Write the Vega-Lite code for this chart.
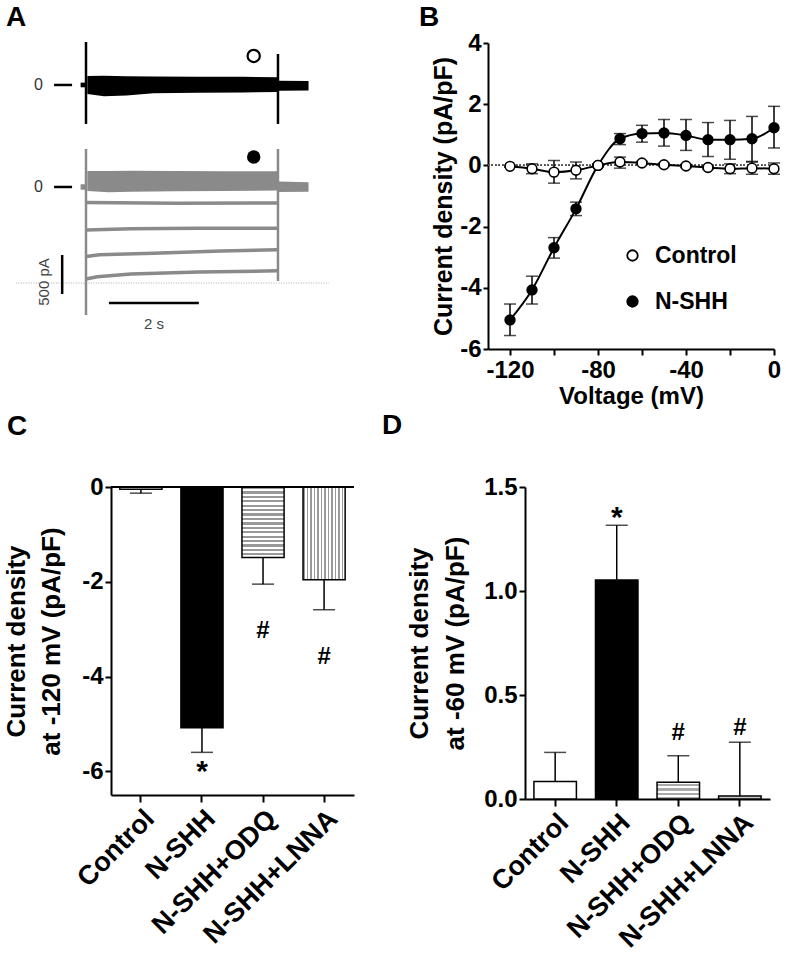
{
 "$schema": "https://vega.github.io/schema/vega-lite/v6.json",
 "padding": {"left": 3, "top": 3, "right": 5, "bottom": 5},
 "background": "white",
 "config": {
  "font": "Liberation Sans",
  "view": {"stroke": null},
  "axis": {"domainColor": "black", "domainWidth": 2, "tickColor": "black", "tickWidth": 2, "labelColor": "black", "labelFont": "Liberation Sans", "labelFontWeight": "bold", "titleFont": "Liberation Sans", "titleFontWeight": "bold", "titleColor": "black", "grid": false, "labelFlush": false, "labelOverlap": false},
  "title": {"fontSize": 28, "fontWeight": "bold", "anchor": "start", "frame": "group", "color": "black", "font": "Liberation Sans", "baseline": "alphabetic"},
  "legend": {"labelFont": "Liberation Sans"}
 },
 "datasets": {
  "A_band": [
   {"trace": "Control", "seg": "pre", "t": -0.12, "hi": 30, "lo": -30},
   {"trace": "Control", "seg": "pre", "t": -0.02, "hi": 30, "lo": -30},
   {"trace": "Control", "seg": "step", "t": 0.03, "hi": 115, "lo": -115},
   {"trace": "Control", "seg": "step", "t": 0.4, "hi": 118, "lo": -145},
   {"trace": "Control", "seg": "step", "t": 0.9, "hi": 112, "lo": -135},
   {"trace": "Control", "seg": "step", "t": 1.5, "hi": 108, "lo": -105},
   {"trace": "Control", "seg": "step", "t": 2.5, "hi": 105, "lo": -100},
   {"trace": "Control", "seg": "step", "t": 3.5, "hi": 105, "lo": -95},
   {"trace": "Control", "seg": "step", "t": 4.26, "hi": 100, "lo": -90},
   {"trace": "Control", "seg": "tail", "t": 4.28, "hi": 55, "lo": -75},
   {"trace": "Control", "seg": "tail", "t": 4.95, "hi": 50, "lo": -70},
   {"trace": "N-SHH", "seg": "pre", "t": -0.12, "hi": 35, "lo": -35},
   {"trace": "N-SHH", "seg": "pre", "t": -0.02, "hi": 35, "lo": -35},
   {"trace": "N-SHH", "seg": "step", "t": 0.03, "hi": 205, "lo": -50},
   {"trace": "N-SHH", "seg": "step", "t": 0.5, "hi": 205, "lo": -68},
   {"trace": "N-SHH", "seg": "step", "t": 1.0, "hi": 207, "lo": -60},
   {"trace": "N-SHH", "seg": "step", "t": 2.0, "hi": 205, "lo": -55},
   {"trace": "N-SHH", "seg": "step", "t": 3.0, "hi": 203, "lo": -50},
   {"trace": "N-SHH", "seg": "step", "t": 4.26, "hi": 203, "lo": -45},
   {"trace": "N-SHH", "seg": "tail", "t": 4.28, "hi": 70, "lo": -65},
   {"trace": "N-SHH", "seg": "tail", "t": 4.95, "hi": 60, "lo": -60}
  ],
  "A_steps": [
   {"level": 1, "t": 0, "pA": -200}, {"level": 1, "t": 2, "pA": -210}, {"level": 1, "t": 4.26, "pA": -205},
   {"level": 2, "t": 0, "pA": -550}, {"level": 2, "t": 1, "pA": -535}, {"level": 2, "t": 2.5, "pA": -530}, {"level": 2, "t": 4.26, "pA": -528},
   {"level": 3, "t": 0, "pA": -890}, {"level": 3, "t": 0.3, "pA": -870}, {"level": 3, "t": 1.5, "pA": -850}, {"level": 3, "t": 3, "pA": -820}, {"level": 3, "t": 4.26, "pA": -805},
   {"level": 4, "t": 0, "pA": -1180}, {"level": 4, "t": 0.25, "pA": -1150}, {"level": 4, "t": 1, "pA": -1115}, {"level": 4, "t": 2.5, "pA": -1090}, {"level": 4, "t": 4.26, "pA": -1075}
  ],
  "A_spikes": [
   {"trace": "Control", "t": 0, "hi": 551, "lo": -500},
   {"trace": "Control", "t": 4.27, "hi": 397, "lo": -500},
   {"trace": "N-SHH", "t": 0, "hi": 487, "lo": -1641},
   {"trace": "N-SHH", "t": 4.27, "hi": 487, "lo": -1205}
  ],
  "A_markers": [
   {"trace": "Control", "t": 3.73, "pA": 372},
   {"trace": "N-SHH", "t": 3.73, "pA": 385}
  ],
  "A_zero": [
   {"trace": "Control", "label": "0", "tText": -1.06, "t0": -0.71, "t1": -0.31, "pA": 0},
   {"trace": "N-SHH", "label": "0", "tText": -1.06, "t0": -0.71, "t1": -0.31, "pA": 0}
  ],
  "A_scale": [
   {"bar": "500 pA", "t0": -0.53, "t1": -0.53, "p0": -872, "p1": -1372, "tText": -0.93, "pText": -1218},
   {"bar": "2 s", "t0": 0.51, "t1": 2.51, "p0": -1487, "p1": -1487, "tText": 1.51, "pText": -1756}
  ],
  "A_ref": [{"t0": -1.56, "t1": 5.4, "pA": -1231}],
  "B_iv": [
   {"group": "N-SHH", "V": -120, "mean": -5.05, "lo": -5.56, "hi": -4.53},
   {"group": "N-SHH", "V": -110, "mean": -4.07, "lo": -4.53, "hi": -3.62},
   {"group": "N-SHH", "V": -100, "mean": -2.69, "lo": -3.03, "hi": -2.36},
   {"group": "N-SHH", "V": -90, "mean": -1.42, "lo": -1.64, "hi": -1.2},
   {"group": "N-SHH", "V": -80, "mean": 0.0, "lo": -0.05, "hi": 0.05},
   {"group": "N-SHH", "V": -70, "mean": 0.87, "lo": 0.68, "hi": 1.04},
   {"group": "N-SHH", "V": -60, "mean": 1.04, "lo": 0.76, "hi": 1.31},
   {"group": "N-SHH", "V": -50, "mean": 1.06, "lo": 0.63, "hi": 1.5},
   {"group": "N-SHH", "V": -40, "mean": 0.98, "lo": 0.49, "hi": 1.5},
   {"group": "N-SHH", "V": -30, "mean": 0.84, "lo": 0.29, "hi": 1.4},
   {"group": "N-SHH", "V": -20, "mean": 0.84, "lo": 0.2, "hi": 1.47},
   {"group": "N-SHH", "V": -10, "mean": 0.87, "lo": 0.13, "hi": 1.6},
   {"group": "N-SHH", "V": 0, "mean": 1.23, "lo": 0.57, "hi": 1.93},
   {"group": "Control", "V": -120, "mean": -0.03, "lo": -0.06, "hi": 0.0},
   {"group": "Control", "V": -110, "mean": -0.11, "lo": -0.27, "hi": 0.05},
   {"group": "Control", "V": -100, "mean": -0.22, "lo": -0.58, "hi": 0.16},
   {"group": "Control", "V": -90, "mean": -0.16, "lo": -0.44, "hi": 0.11},
   {"group": "Control", "V": -80, "mean": 0.0, "lo": -0.03, "hi": 0.03},
   {"group": "Control", "V": -70, "mean": 0.11, "lo": -0.09, "hi": 0.27},
   {"group": "Control", "V": -60, "mean": 0.08, "lo": 0.03, "hi": 0.13},
   {"group": "Control", "V": -50, "mean": 0.02, "lo": -0.03, "hi": 0.07},
   {"group": "Control", "V": -40, "mean": -0.02, "lo": -0.07, "hi": 0.03},
   {"group": "Control", "V": -30, "mean": -0.07, "lo": -0.12, "hi": -0.02},
   {"group": "Control", "V": -20, "mean": -0.11, "lo": -0.27, "hi": 0.05},
   {"group": "Control", "V": -10, "mean": -0.09, "lo": -0.29, "hi": 0.11},
   {"group": "Control", "V": 0, "mean": -0.11, "lo": -0.29, "hi": 0.08}
  ],
  "C_bars": [
   {"cond": "Control", "val": -0.05, "end": -0.13, "sig": "", "sigY": 0},
   {"cond": "N-SHH", "val": -5.08, "end": -5.6, "sig": "*", "sigY": -6.21},
   {"cond": "N-SHH+ODQ", "val": -1.49, "end": -2.05, "sig": "#", "sigY": -3.19},
   {"cond": "N-SHH+LNNA", "val": -1.96, "end": -2.59, "sig": "#", "sigY": -3.74}
  ],
  "D_bars": [
   {"cond": "Control", "val": 0.084, "end": 0.224, "sig": "", "sigY": 0},
   {"cond": "N-SHH", "val": 1.053, "end": 1.316, "sig": "*", "sigY": 1.31},
   {"cond": "N-SHH+ODQ", "val": 0.081, "end": 0.208, "sig": "#", "sigY": 0.285},
   {"cond": "N-SHH+LNNA", "val": 0.015, "end": 0.273, "sig": "#", "sigY": 0.31}
  ]
 },
 "spacing": 4,
 "vconcat": [
  {
   "spacing": 171,
   "bounds": "flush",
   "hconcat": [
    {
     "width": 206,
     "height": 306,
     "title": {"text": "A", "dx": -105, "offset": 9},
     "resolve": {"scale": {"y": "independent"}},
     "layer": [
      {
       "layer": [
        {
         "data": {"name": "A_band"},
         "transform": [{"filter": "datum.trace == 'Control'"}],
         "mark": {"type": "area", "color": "black", "interpolate": "linear"},
         "encoding": {
          "x": {"field": "t", "type": "quantitative", "scale": {"domain": [0.556, 5.138], "nice": false, "zero": false}, "axis": null},
          "y": {"field": "hi", "type": "quantitative", "scale": {"domain": [-3385, 538], "nice": false, "zero": false}, "axis": null},
          "y2": {"field": "lo"},
          "detail": {"field": "seg"}
         }
        },
        {
         "data": {"name": "A_spikes"},
         "transform": [{"filter": "datum.trace == 'Control'"}],
         "mark": {"type": "rule", "color": "black", "strokeWidth": 2.5},
         "encoding": {
          "x": {"field": "t", "type": "quantitative", "scale": {"domain": [0.556, 5.138], "nice": false, "zero": false}, "axis": null},
          "y": {"field": "hi", "type": "quantitative", "scale": {"domain": [-3385, 538], "nice": false, "zero": false}, "axis": null},
          "y2": {"field": "lo"}
         }
        },
        {
         "data": {"name": "A_markers"},
         "transform": [{"filter": "datum.trace == 'Control'"}],
         "mark": {"type": "point", "shape": "circle", "filled": false, "stroke": "black", "strokeWidth": 2.2, "size": 150, "opacity": 1},
         "encoding": {
          "x": {"field": "t", "type": "quantitative", "scale": {"domain": [0.556, 5.138], "nice": false, "zero": false}, "axis": null},
          "y": {"field": "pA", "type": "quantitative", "scale": {"domain": [-3385, 538], "nice": false, "zero": false}, "axis": null}
         }
        },
        {
         "data": {"name": "A_zero"},
         "transform": [{"filter": "datum.trace == 'Control'"}],
         "mark": {"type": "rule", "color": "black", "strokeWidth": 2.5},
         "encoding": {
          "x": {"field": "t0", "type": "quantitative", "scale": {"domain": [0.556, 5.138], "nice": false, "zero": false}, "axis": null},
          "x2": {"field": "t1"},
          "y": {"field": "pA", "type": "quantitative", "scale": {"domain": [-3385, 538], "nice": false, "zero": false}, "axis": null}
         }
        },
        {
         "data": {"name": "A_zero"},
         "transform": [{"filter": "datum.trace == 'Control'"}],
         "mark": {"type": "text", "fontSize": 16, "color": "#333333", "align": "center", "baseline": "middle"},
         "encoding": {
          "x": {"field": "tText", "type": "quantitative", "scale": {"domain": [0.556, 5.138], "nice": false, "zero": false}, "axis": null},
          "y": {"field": "pA", "type": "quantitative", "scale": {"domain": [-3385, 538], "nice": false, "zero": false}, "axis": null},
          "text": {"field": "label"}
         }
        }
       ]
      },
      {
       "layer": [
        {
         "data": {"name": "A_ref"},
         "mark": {"type": "rule", "color": "#aaaaaa", "strokeWidth": 1, "strokeDash": [1, 1.5]},
         "encoding": {
          "x": {"field": "t0", "type": "quantitative", "scale": {"domain": [0.556, 5.138], "nice": false, "zero": false}, "axis": null},
          "x2": {"field": "t1"},
          "y": {"field": "pA", "type": "quantitative", "scale": {"domain": [-2077, 1846], "nice": false, "zero": false}, "axis": null}
         }
        },
        {
         "data": {"name": "A_band"},
         "transform": [{"filter": "datum.trace == 'N-SHH'"}],
         "mark": {"type": "area", "color": "#8a8a8a", "interpolate": "linear"},
         "encoding": {
          "x": {"field": "t", "type": "quantitative", "scale": {"domain": [0.556, 5.138], "nice": false, "zero": false}, "axis": null},
          "y": {"field": "hi", "type": "quantitative", "scale": {"domain": [-2077, 1846], "nice": false, "zero": false}, "axis": null},
          "y2": {"field": "lo"},
          "detail": {"field": "seg"}
         }
        },
        {
         "data": {"name": "A_steps"},
         "mark": {"type": "line", "color": "#8a8a8a", "strokeWidth": 3.5},
         "encoding": {
          "x": {"field": "t", "type": "quantitative", "scale": {"domain": [0.556, 5.138], "nice": false, "zero": false}, "axis": null},
          "y": {"field": "pA", "type": "quantitative", "scale": {"domain": [-2077, 1846], "nice": false, "zero": false}, "axis": null},
          "detail": {"field": "level"}
         }
        },
        {
         "data": {"name": "A_spikes"},
         "transform": [{"filter": "datum.trace == 'N-SHH'"}],
         "mark": {"type": "rule", "color": "#8a8a8a", "strokeWidth": 2.5},
         "encoding": {
          "x": {"field": "t", "type": "quantitative", "scale": {"domain": [0.556, 5.138], "nice": false, "zero": false}, "axis": null},
          "y": {"field": "hi", "type": "quantitative", "scale": {"domain": [-2077, 1846], "nice": false, "zero": false}, "axis": null},
          "y2": {"field": "lo"}
         }
        },
        {
         "data": {"name": "A_markers"},
         "transform": [{"filter": "datum.trace == 'N-SHH'"}],
         "mark": {"type": "point", "shape": "circle", "filled": true, "color": "black", "size": 180, "opacity": 1},
         "encoding": {
          "x": {"field": "t", "type": "quantitative", "scale": {"domain": [0.556, 5.138], "nice": false, "zero": false}, "axis": null},
          "y": {"field": "pA", "type": "quantitative", "scale": {"domain": [-2077, 1846], "nice": false, "zero": false}, "axis": null}
         }
        },
        {
         "data": {"name": "A_zero"},
         "transform": [{"filter": "datum.trace == 'N-SHH'"}],
         "mark": {"type": "rule", "color": "black", "strokeWidth": 2.5},
         "encoding": {
          "x": {"field": "t0", "type": "quantitative", "scale": {"domain": [0.556, 5.138], "nice": false, "zero": false}, "axis": null},
          "x2": {"field": "t1"},
          "y": {"field": "pA", "type": "quantitative", "scale": {"domain": [-2077, 1846], "nice": false, "zero": false}, "axis": null}
         }
        },
        {
         "data": {"name": "A_zero"},
         "transform": [{"filter": "datum.trace == 'N-SHH'"}],
         "mark": {"type": "text", "fontSize": 16, "color": "#333333", "align": "center", "baseline": "middle"},
         "encoding": {
          "x": {"field": "tText", "type": "quantitative", "scale": {"domain": [0.556, 5.138], "nice": false, "zero": false}, "axis": null},
          "y": {"field": "pA", "type": "quantitative", "scale": {"domain": [-2077, 1846], "nice": false, "zero": false}, "axis": null},
          "text": {"field": "label"}
         }
        },
        {
         "data": {"name": "A_scale"},
         "mark": {"type": "rule", "color": "black", "strokeWidth": 2.5},
         "encoding": {
          "x": {"field": "t0", "type": "quantitative", "scale": {"domain": [0.556, 5.138], "nice": false, "zero": false}, "axis": null},
          "x2": {"field": "t1"},
          "y": {"field": "p0", "type": "quantitative", "scale": {"domain": [-2077, 1846], "nice": false, "zero": false}, "axis": null},
          "y2": {"field": "p1"}
         }
        },
        {
         "data": {"name": "A_scale"},
         "transform": [{"filter": "datum.bar == '500 pA'"}],
         "mark": {"type": "text", "fontSize": 15, "color": "#444444", "align": "center", "baseline": "middle", "angle": 270},
         "encoding": {
          "x": {"field": "tText", "type": "quantitative", "scale": {"domain": [0.556, 5.138], "nice": false, "zero": false}, "axis": null},
          "y": {"field": "pText", "type": "quantitative", "scale": {"domain": [-2077, 1846], "nice": false, "zero": false}, "axis": null},
          "text": {"field": "bar"}
         }
        },
        {
         "data": {"name": "A_scale"},
         "transform": [{"filter": "datum.bar == '2 s'"}],
         "mark": {"type": "text", "fontSize": 15, "color": "#444444", "align": "center", "baseline": "middle"},
         "encoding": {
          "x": {"field": "tText", "type": "quantitative", "scale": {"domain": [0.556, 5.138], "nice": false, "zero": false}, "axis": null},
          "y": {"field": "pText", "type": "quantitative", "scale": {"domain": [-2077, 1846], "nice": false, "zero": false}, "axis": null},
          "text": {"field": "bar"}
         }
        }
       ]
      }
     ]
    },
    {
     "width": 286,
     "height": 306,
     "title": {"text": "B", "dx": -69, "offset": -1},
     "data": {"name": "B_iv"},
     "layer": [
      {
       "mark": {"type": "rule", "color": "#555555", "strokeWidth": 1, "strokeDash": [1.5, 2]},
       "encoding": {
        "x": {"datum": -130, "type": "quantitative", "scale": {"domain": [-130, 0], "nice": false, "zero": false}},
        "x2": {"datum": 0},
        "y": {"datum": 0, "type": "quantitative", "scale": {"domain": [-6, 4], "nice": false, "zero": false}}
       }
      },
      {
       "mark": {"type": "rule", "color": "black", "strokeWidth": 1.5},
       "encoding": {
        "x": {"field": "V", "type": "quantitative", "title": "Voltage (mV)"},
        "y": {"field": "lo", "type": "quantitative", "title": "Current density (pA/pF)"},
        "y2": {"field": "hi"}
       }
      },
      {
       "mark": {"type": "tick", "orient": "horizontal", "size": 12, "thickness": 1.5, "color": "black"},
       "encoding": {
        "x": {"field": "V", "type": "quantitative", "title": "Voltage (mV)"},
        "y": {"field": "lo", "type": "quantitative", "title": "Current density (pA/pF)"}
       }
      },
      {
       "mark": {"type": "tick", "orient": "horizontal", "size": 12, "thickness": 1.5, "color": "black"},
       "encoding": {
        "x": {"field": "V", "type": "quantitative", "title": "Voltage (mV)"},
        "y": {"field": "hi", "type": "quantitative", "title": "Current density (pA/pF)"}
       }
      },
      {
       "mark": {"type": "line", "color": "black", "strokeWidth": 2, "interpolate": "monotone"},
       "encoding": {
        "x": {"field": "V", "type": "quantitative", "title": "Voltage (mV)"},
        "y": {"field": "mean", "type": "quantitative", "title": "Current density (pA/pF)"},
        "detail": {"field": "group"}
       }
      },
      {
       "mark": {"type": "point", "shape": "circle", "filled": true, "stroke": "black", "strokeWidth": 1.6, "size": 95, "opacity": 1},
       "encoding": {
        "x": {
         "field": "V", "type": "quantitative", "title": "Voltage (mV)",
         "scale": {"domain": [-130, 0], "nice": false, "zero": false},
         "axis": {"values": [-120, -100, -80, -60, -40, -20, 0], "labelExpr": "datum.value % 40 == 0 ? toString(datum.value) : ''", "labelFontSize": 24, "tickSize": 6, "labelPadding": 3, "titleFontSize": 24, "titlePadding": 2}
        },
        "y": {
         "field": "mean", "type": "quantitative", "title": "Current density (pA/pF)",
         "scale": {"domain": [-6, 4], "nice": false, "zero": false},
         "axis": {"values": [-6, -4, -2, 0, 2, 4], "labelExpr": "toString(datum.value)", "labelFontSize": 24, "tickSize": 5, "labelPadding": 2, "titleFontSize": 25, "titlePadding": 3}
        },
        "fill": {
         "field": "group", "type": "nominal",
         "scale": {"domain": ["Control", "N-SHH"], "range": ["white", "black"]},
         "legend": {"orient": "none", "legendX": 510, "legendY": 201, "title": null, "labelFontSize": 23, "labelFontWeight": "bold", "labelColor": "black", "symbolType": "circle", "symbolSize": 110, "symbolStrokeColor": "black", "symbolStrokeWidth": 1.8, "rowPadding": 22, "labelOffset": 11}
        }
       }
      }
     ]
    }
   ]
  },
  {
   "spacing": 171,
   "bounds": "flush",
   "hconcat": [
    {
     "width": 243,
     "height": 308,
     "title": {"text": "C", "dx": -104, "offset": 34},
     "data": {"name": "C_bars"},
     "layer": [
      {
       "mark": {"type": "rule", "color": "black", "strokeWidth": 1.5},
       "encoding": {
        "x": {"field": "cond", "type": "nominal", "sort": ["Control", "N-SHH", "N-SHH+ODQ", "N-SHH+LNNA"], "scale": {"paddingInner": 0.31, "paddingOuter": 0.145}, "axis": {"title": null, "labelAngle": -45, "labelFontSize": 27, "tickSize": 7, "labelPadding": 3}},
        "y": {"field": "val", "type": "quantitative", "scale": {"domain": [-6.5, 0], "nice": false, "zero": false}, "axis": {"values": [0, -2, -4, -6], "labelExpr": "toString(datum.value)", "labelFontSize": 24, "tickSize": 6, "labelPadding": 2, "title": ["Current density", "at -120 mV (pA/pF)"], "titleFontSize": 26, "titleLineHeight": 35, "titlePadding": 17}},
        "y2": {"field": "end"}
       }
      },
      {
       "mark": {"type": "tick", "orient": "horizontal", "size": 22, "thickness": 1.5, "color": "black"},
       "encoding": {
        "x": {"field": "cond", "type": "nominal", "sort": ["Control", "N-SHH", "N-SHH+ODQ", "N-SHH+LNNA"]},
        "y": {"field": "end", "type": "quantitative"}
       }
      },
      {
       "mark": {"type": "bar", "stroke": "black", "strokeWidth": 1.5},
       "encoding": {
        "x": {"field": "cond", "type": "nominal", "sort": ["Control", "N-SHH", "N-SHH+ODQ", "N-SHH+LNNA"]},
        "y": {"field": "val", "type": "quantitative"},
        "fill": {
         "condition": [
          {"test": "datum.cond == 'N-SHH'", "value": "black"},
          {"test": "datum.cond == 'N-SHH+ODQ'", "value": {"gradient": "linear", "x1": 0, "y1": 0, "x2": 0, "y2": 1, "stops": [
           {"offset": 0, "color": "#999999"}, {"offset": 0.03125, "color": "#999999"}, {"offset": 0.03125, "color": "#ffffff"}, {"offset": 0.0625, "color": "#ffffff"},
           {"offset": 0.0625, "color": "#999999"}, {"offset": 0.09375, "color": "#999999"}, {"offset": 0.09375, "color": "#ffffff"}, {"offset": 0.125, "color": "#ffffff"},
           {"offset": 0.125, "color": "#999999"}, {"offset": 0.15625, "color": "#999999"}, {"offset": 0.15625, "color": "#ffffff"}, {"offset": 0.1875, "color": "#ffffff"},
           {"offset": 0.1875, "color": "#999999"}, {"offset": 0.21875, "color": "#999999"}, {"offset": 0.21875, "color": "#ffffff"}, {"offset": 0.25, "color": "#ffffff"},
           {"offset": 0.25, "color": "#999999"}, {"offset": 0.28125, "color": "#999999"}, {"offset": 0.28125, "color": "#ffffff"}, {"offset": 0.3125, "color": "#ffffff"},
           {"offset": 0.3125, "color": "#999999"}, {"offset": 0.34375, "color": "#999999"}, {"offset": 0.34375, "color": "#ffffff"}, {"offset": 0.375, "color": "#ffffff"},
           {"offset": 0.375, "color": "#999999"}, {"offset": 0.40625, "color": "#999999"}, {"offset": 0.40625, "color": "#ffffff"}, {"offset": 0.4375, "color": "#ffffff"},
           {"offset": 0.4375, "color": "#999999"}, {"offset": 0.46875, "color": "#999999"}, {"offset": 0.46875, "color": "#ffffff"}, {"offset": 0.5, "color": "#ffffff"},
           {"offset": 0.5, "color": "#999999"}, {"offset": 0.53125, "color": "#999999"}, {"offset": 0.53125, "color": "#ffffff"}, {"offset": 0.5625, "color": "#ffffff"},
           {"offset": 0.5625, "color": "#999999"}, {"offset": 0.59375, "color": "#999999"}, {"offset": 0.59375, "color": "#ffffff"}, {"offset": 0.625, "color": "#ffffff"},
           {"offset": 0.625, "color": "#999999"}, {"offset": 0.65625, "color": "#999999"}, {"offset": 0.65625, "color": "#ffffff"}, {"offset": 0.6875, "color": "#ffffff"},
           {"offset": 0.6875, "color": "#999999"}, {"offset": 0.71875, "color": "#999999"}, {"offset": 0.71875, "color": "#ffffff"}, {"offset": 0.75, "color": "#ffffff"},
           {"offset": 0.75, "color": "#999999"}, {"offset": 0.78125, "color": "#999999"}, {"offset": 0.78125, "color": "#ffffff"}, {"offset": 0.8125, "color": "#ffffff"},
           {"offset": 0.8125, "color": "#999999"}, {"offset": 0.84375, "color": "#999999"}, {"offset": 0.84375, "color": "#ffffff"}, {"offset": 0.875, "color": "#ffffff"},
           {"offset": 0.875, "color": "#999999"}, {"offset": 0.90625, "color": "#999999"}, {"offset": 0.90625, "color": "#ffffff"}, {"offset": 0.9375, "color": "#ffffff"},
           {"offset": 0.9375, "color": "#999999"}, {"offset": 0.96875, "color": "#999999"}, {"offset": 0.96875, "color": "#ffffff"}, {"offset": 1, "color": "#ffffff"}
          ]}},
          {"test": "datum.cond == 'N-SHH+LNNA'", "value": {"gradient": "linear", "x1": 0, "y1": 0, "x2": 1, "y2": 0, "stops": [
           {"offset": 0, "color": "#999999"}, {"offset": 0.04167, "color": "#999999"}, {"offset": 0.04167, "color": "#ffffff"}, {"offset": 0.08333, "color": "#ffffff"},
           {"offset": 0.08333, "color": "#999999"}, {"offset": 0.125, "color": "#999999"}, {"offset": 0.125, "color": "#ffffff"}, {"offset": 0.16667, "color": "#ffffff"},
           {"offset": 0.16667, "color": "#999999"}, {"offset": 0.20833, "color": "#999999"}, {"offset": 0.20833, "color": "#ffffff"}, {"offset": 0.25, "color": "#ffffff"},
           {"offset": 0.25, "color": "#999999"}, {"offset": 0.29167, "color": "#999999"}, {"offset": 0.29167, "color": "#ffffff"}, {"offset": 0.33333, "color": "#ffffff"},
           {"offset": 0.33333, "color": "#999999"}, {"offset": 0.375, "color": "#999999"}, {"offset": 0.375, "color": "#ffffff"}, {"offset": 0.41667, "color": "#ffffff"},
           {"offset": 0.41667, "color": "#999999"}, {"offset": 0.45833, "color": "#999999"}, {"offset": 0.45833, "color": "#ffffff"}, {"offset": 0.5, "color": "#ffffff"},
           {"offset": 0.5, "color": "#999999"}, {"offset": 0.54167, "color": "#999999"}, {"offset": 0.54167, "color": "#ffffff"}, {"offset": 0.58333, "color": "#ffffff"},
           {"offset": 0.58333, "color": "#999999"}, {"offset": 0.625, "color": "#999999"}, {"offset": 0.625, "color": "#ffffff"}, {"offset": 0.66667, "color": "#ffffff"},
           {"offset": 0.66667, "color": "#999999"}, {"offset": 0.70833, "color": "#999999"}, {"offset": 0.70833, "color": "#ffffff"}, {"offset": 0.75, "color": "#ffffff"},
           {"offset": 0.75, "color": "#999999"}, {"offset": 0.79167, "color": "#999999"}, {"offset": 0.79167, "color": "#ffffff"}, {"offset": 0.83333, "color": "#ffffff"},
           {"offset": 0.83333, "color": "#999999"}, {"offset": 0.875, "color": "#999999"}, {"offset": 0.875, "color": "#ffffff"}, {"offset": 0.91667, "color": "#ffffff"},
           {"offset": 0.91667, "color": "#999999"}, {"offset": 0.95833, "color": "#999999"}, {"offset": 0.95833, "color": "#ffffff"}, {"offset": 1, "color": "#ffffff"}
          ]}}
         ],
         "value": "white"
        }
       }
      },
      {
       "mark": {"type": "rule", "color": "black", "strokeWidth": 2},
       "encoding": {"y": {"datum": 0, "type": "quantitative"}}
      },
      {
       "transform": [{"filter": "datum.sig == '*'"}],
       "mark": {"type": "text", "fontSize": 30, "fontWeight": "bold", "color": "black", "baseline": "alphabetic", "align": "center"},
       "encoding": {
        "x": {"field": "cond", "type": "nominal", "sort": ["Control", "N-SHH", "N-SHH+ODQ", "N-SHH+LNNA"]},
        "y": {"field": "sigY", "type": "quantitative"},
        "text": {"field": "sig"}
       }
      },
      {
       "transform": [{"filter": "datum.sig == '#'"}],
       "mark": {"type": "text", "fontSize": 24, "fontWeight": "bold", "color": "black", "baseline": "alphabetic", "align": "center"},
       "encoding": {
        "x": {"field": "cond", "type": "nominal", "sort": ["Control", "N-SHH", "N-SHH+ODQ", "N-SHH+LNNA"]},
        "y": {"field": "sigY", "type": "quantitative"},
        "text": {"field": "sig"}
       }
      }
     ]
    },
    {
     "width": 245,
     "height": 312,
     "title": {"text": "D", "dx": -143, "offset": 35},
     "data": {"name": "D_bars"},
     "layer": [
      {
       "mark": {"type": "rule", "color": "black", "strokeWidth": 1.5},
       "encoding": {
        "x": {"field": "cond", "type": "nominal", "sort": ["Control", "N-SHH", "N-SHH+ODQ", "N-SHH+LNNA"], "scale": {"paddingInner": 0.31, "paddingOuter": 0.145}, "axis": {"title": null, "labelAngle": -45, "labelFontSize": 27, "tickSize": 7, "labelPadding": 3}},
        "y": {"field": "val", "type": "quantitative", "scale": {"domain": [0, 1.5], "nice": false, "zero": false}, "axis": {"values": [0, 0.5, 1, 1.5], "format": ".1f", "labelFontSize": 24, "tickSize": 6, "labelPadding": 2, "title": ["Current density", "at -60 mV (pA/pF)"], "titleFontSize": 26, "titleLineHeight": 36, "titlePadding": 15}},
        "y2": {"field": "end"}
       }
      },
      {
       "mark": {"type": "tick", "orient": "horizontal", "size": 22, "thickness": 1.5, "color": "black"},
       "encoding": {
        "x": {"field": "cond", "type": "nominal", "sort": ["Control", "N-SHH", "N-SHH+ODQ", "N-SHH+LNNA"]},
        "y": {"field": "end", "type": "quantitative"}
       }
      },
      {
       "mark": {"type": "bar", "stroke": "black", "strokeWidth": 1.5},
       "encoding": {
        "x": {"field": "cond", "type": "nominal", "sort": ["Control", "N-SHH", "N-SHH+ODQ", "N-SHH+LNNA"]},
        "y": {"field": "val", "type": "quantitative"},
        "fill": {
         "condition": [
          {"test": "datum.cond == 'N-SHH'", "value": "black"},
          {"test": "datum.cond == 'N-SHH+ODQ'", "value": {"gradient": "linear", "x1": 0, "y1": 0, "x2": 0, "y2": 1, "stops": [
           {"offset": 0, "color": "#ffffff"}, {"offset": 0.125, "color": "#ffffff"}, {"offset": 0.125, "color": "#aaaaaa"}, {"offset": 0.25, "color": "#aaaaaa"},
           {"offset": 0.25, "color": "#ffffff"}, {"offset": 0.375, "color": "#ffffff"}, {"offset": 0.375, "color": "#aaaaaa"}, {"offset": 0.5, "color": "#aaaaaa"},
           {"offset": 0.5, "color": "#ffffff"}, {"offset": 0.625, "color": "#ffffff"}, {"offset": 0.625, "color": "#aaaaaa"}, {"offset": 0.75, "color": "#aaaaaa"},
           {"offset": 0.75, "color": "#ffffff"}, {"offset": 0.875, "color": "#ffffff"}, {"offset": 0.875, "color": "#aaaaaa"}, {"offset": 1, "color": "#aaaaaa"}
          ]}},
          {"test": "datum.cond == 'N-SHH+LNNA'", "value": "#cccccc"}
         ],
         "value": "white"
        }
       }
      },
      {
       "transform": [{"filter": "datum.sig == '*'"}],
       "mark": {"type": "text", "fontSize": 30, "fontWeight": "bold", "color": "black", "baseline": "alphabetic", "align": "center"},
       "encoding": {
        "x": {"field": "cond", "type": "nominal", "sort": ["Control", "N-SHH", "N-SHH+ODQ", "N-SHH+LNNA"]},
        "y": {"field": "sigY", "type": "quantitative"},
        "text": {"field": "sig"}
       }
      },
      {
       "transform": [{"filter": "datum.sig == '#'"}],
       "mark": {"type": "text", "fontSize": 24, "fontWeight": "bold", "color": "black", "baseline": "alphabetic", "align": "center"},
       "encoding": {
        "x": {"field": "cond", "type": "nominal", "sort": ["Control", "N-SHH", "N-SHH+ODQ", "N-SHH+LNNA"]},
        "y": {"field": "sigY", "type": "quantitative"},
        "text": {"field": "sig"}
       }
      }
     ]
    }
   ]
  }
 ]
}
